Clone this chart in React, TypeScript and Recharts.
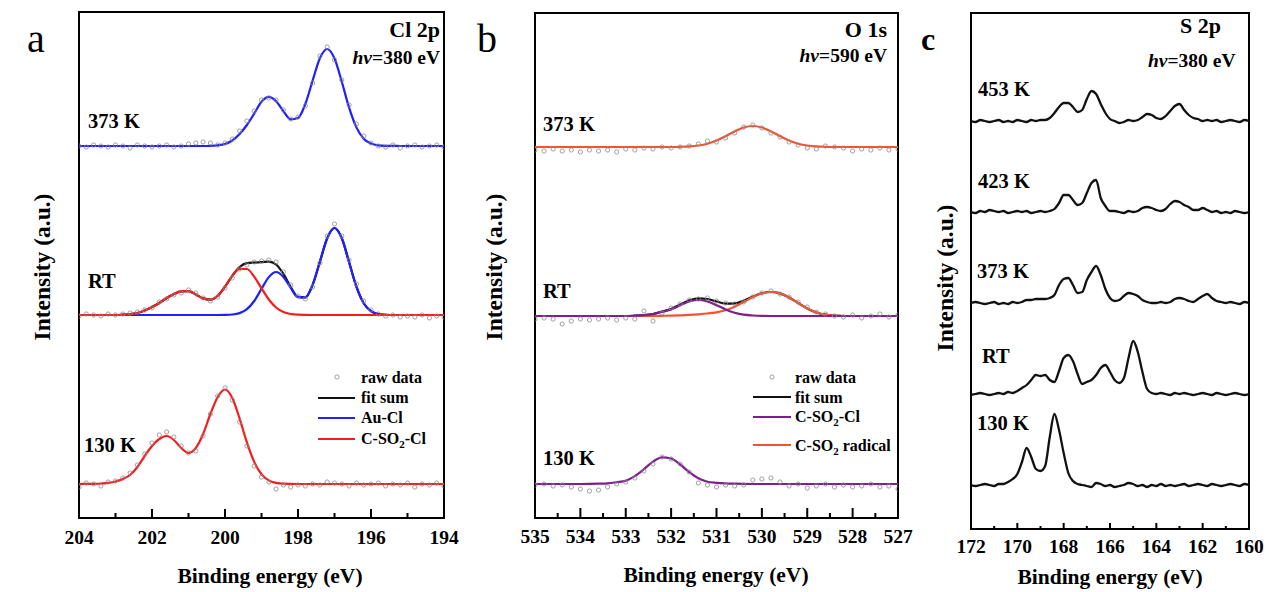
import { ComposedChart, Line, XAxis, YAxis, ReferenceArea } from 'recharts'

const SERIF = "'Liberation Serif', 'Times New Roman', Times, serif"
const BLUE = '#1f1fff'
const RED = '#f41c1c'
const PURPLE = '#7f1f8f'
const ORANGE = '#f5532f'
const BLACK = '#111'
const DOT = '#8a8a8a'

// ---- panel a: Cl 2p (intensities above each baseline) ----
const clEnergy = [
  194, 194.2, 194.4, 194.6, 194.8, 195, 195.2, 195.4, 195.6, 195.8,
  196, 196.2, 196.4, 196.6, 196.8, 197, 197.2, 197.4, 197.6, 197.8,
  198, 198.2, 198.4, 198.6, 198.8, 199, 199.2, 199.4, 199.6, 199.8,
  200, 200.2, 200.4, 200.6, 200.8, 201, 201.2, 201.4, 201.6, 201.8,
  202, 202.2, 202.4, 202.6, 202.8, 203, 203.2, 203.4, 203.6, 203.8, 204,
]
const cl373Fit = [
  0, 0, 0, 0, 0, 0, 0, 0.1, 0.1, 0.6,
  2.4, 7.3, 18.6, 38.3, 64.2, 87.5, 97, 87.8, 65.4, 42,
  28, 26.6, 34.8, 44.8, 49.1, 44.2, 32.4, 21, 12, 5.5,
  2, 0.7, 0.2, 0, 0, 0, 0, 0, 0, 0,
  0, 0, 0, 0, 0, 0, 0, 0, 0, 0, 0,
]
const cl373Raw = [
  -1, 1, 0, -1, 1, 0, -2, 1, -1, 0,
  3, 10, 22, 41, 66, 86, 99, 90, 63, 40,
  29, 27, 36, 46, 48, 46, 35, 25, 15, 7,
  3, 1, 3, 4, 3, 2, 0, -1, 1, 0,
  -1, 0, 1, -2, 0, 1, -1, 0, 1, -1, 0,
]
const clRtSum = [
  0, 0, 0, 0, 0, 0, 0, 0, 0.2, 1,
  3.8, 11.7, 28.3, 52.8, 76.7, 87, 76.8, 53.3, 30.2, 17.6,
  18.1, 28.1, 41.1, 50.5, 53.4, 52.8, 52.4, 51.8, 48, 39.4,
  28.4, 19.3, 15.4, 16.6, 20.6, 23.8, 23.6, 21, 17, 12,
  8, 4.5, 2, 0.8, 0.3, 0, 0, 0, 0, 0, 0,
]
const clRtAuCl = [
  0, 0, 0, 0, 0, 0, 0, 0, 0.2, 1,
  3.8, 11.7, 28.3, 52.8, 76.7, 87, 76.8, 53.3, 30.2, 17.5,
  17.8, 27.1, 38.1, 43, 37.9, 26.1, 14, 5.8, 1.9, 0.5,
  0.1, 0, 0, 0, 0, 0, 0, 0, 0, 0,
  0, 0, 0, 0, 0, 0, 0, 0, 0, 0, 0,
]
const clRtCSO2Cl = [
  0, 0, 0, 0, 0, 0, 0, 0, 0, 0,
  0, 0, 0, 0, 0, 0, 0, 0, 0, 0.1,
  0.3, 1, 3, 7.5, 15.5, 26.7, 38.4, 46, 46.1, 38.9,
  28.3, 19.3, 15.4, 16.6, 20.6, 23.8, 23.6, 21, 17, 12,
  8, 4.5, 2, 0.8, 0.3, 0, 0, 0, 0, 0, 0,
]
const clRtRaw = [
  -2, -1, -3, 0, -2, -1, -2, 0, -1, 1,
  5, 14, 31, 55, 79, 91, 79, 52, 28, 16,
  19, 30, 43, 53, 55, 54, 53, 50, 46, 37,
  27, 18, 14, 17, 22, 25, 22, 20, 16, 13,
  7, 5, 3, 2, 1, 0, 1, -1, 0, 1, -1,
]
const cl130Fit = [
  0, 0, 0, 0, 0, 0, 0, 0, 0, 0,
  0, 0, 0, 0, 0, 0, 0, 0, 0, 0,
  0, 0.1, 0.3, 1.1, 3.6, 9.8, 22.1, 41.6, 65.4, 86,
  94.5, 87, 70, 50, 36, 31, 36, 44, 48, 45,
  38, 28, 17, 9, 5, 2.5, 1.2, 0.5, 0.2, 0.1, 0,
]
const cl130Raw = [
  -2, 1, -1, 0, -3, 1, -1, 0, -2, 1,
  0, -1, 1, -2, 0, 1, 2, -1, 0, -2,
  -1, -3, -1, -5, 2, 7, 18, 38, 62, 84,
  96, 88, 70, 48, 33, 31, 38, 47, 52, 49,
  41, 30, 19, 11, 6, 3, 2, -2, 0, 1, -3,
]
const clBase373 = 372
const clBaseRt = 203
const clBase130 = 34

// ---- panel b: O 1s ----
const oEnergy = [
  527, 527.2, 527.4, 527.6, 527.8, 528, 528.2, 528.4, 528.6, 528.8,
  529, 529.2, 529.4, 529.6, 529.8, 530, 530.2, 530.4, 530.6, 530.8,
  531, 531.2, 531.4, 531.6, 531.8, 532, 532.2, 532.4, 532.6, 532.8,
  533, 533.2, 533.4, 533.6, 533.8, 534, 534.2, 534.4, 534.6, 534.8, 535,
]
const o373Fit = [
  0, 0, 0, 0, 0, 0, 0, 0, 0.2, 0.6,
  1.5, 3.3, 6.4, 10.8, 15.6, 19.5, 21, 19.5, 15.6, 10.8,
  6.4, 3.3, 1.5, 0.6, 0.2, 0, 0, 0, 0, 0,
  0, 0, 0, 0, 0, 0, 0, 0, 0, 0, 0,
]
const o373Raw = [
  -2, -3, -1, -3, -2, -4, -1, 0, 1, -2,
  -1, 2, 5, 10, 14, 19, 22, 20, 14, 9,
  5, 6, 3, 1, 0, -1, 0, -2, -1, -3,
  -2, -5, -3, -4, -3, -5, -3, -4, -2, -4, -3,
]
const oRtSum = [
  0, 0, 0, 0, 0, 0, 0, 0.4, 1.3, 3.5,
  7.5, 13, 18.5, 22.6, 24, 22.7, 19.4, 15.3, 12.6, 12.4,
  14.5, 17, 17.7, 15.6, 11.5, 7, 4.4, 1.9, 0.8, 0.3,
  0, 0, 0, 0, 0, 0, 0, 0, 0, 0, 0,
]
const oRtRadical = [
  0, 0, 0, 0, 0, 0, 0, 0.4, 1.3, 3.5,
  7.5, 13, 18.5, 22.6, 24, 22.6, 18.9, 14, 9.3, 5.8,
  3.7, 2.5, 1.7, 1.1, 0.7, 0.4, 0.2, 0, 0, 0,
  0, 0, 0, 0, 0, 0, 0, 0, 0, 0, 0,
]
const oRtCSO2Cl = [
  0, 0, 0, 0, 0, 0, 0, 0, 0, 0,
  0, 0, 0, 0, 0, 0.1, 0.5, 1.3, 3.3, 6.6,
  10.8, 14.5, 16, 14.5, 10.8, 6.6, 4.2, 1.9, 0.8, 0.3,
  0, 0, 0, 0, 0, 0, 0, 0, 0, 0, 0,
]
const oRtRaw = [
  1, -1, 2, 0, -2, 1, -1, 0, 2, 4,
  9, 14, 19, 22, 25, 23, 19, 14, 12, 13,
  15, 18, 17, 16, 12, 8, 3, -5, 5, -3,
  -2, -4, -2, -3, -4, -3, -5, -8, -3, -2, -3,
]
const o130Fit = [
  0, 0, 0, 0, 0, 0, 0, 0, 0, 0,
  0, 0, 0, 0, 0, 0, 0, 0.1, 0.3, 0.6,
  1.2, 2.2, 5.7, 11.8, 19.5, 25.5, 26.7, 22.3, 14.8, 7.9,
  3.3, 1.8, 0.6, 0.3, 0.1, 0, 0, 0, 0, 0, 0,
]
const o130Raw = [
  -5, -2, -3, 0, -2, -3, -1, -3, 0, -2,
  -4, 0, -2, 2, 6, 5, 4, -1, -2, -1,
  -3, -1, 1, 12, 20, 25, 27, 20, 13, 6,
  2, 0, -3, -6, -7, -5, -3, -1, -2, 0, -1,
]
const oBase373 = 371
const oBaseRt = 202
const oBase130 = 34

// ---- panel c: S 2p ----
const sEnergy = [
  160, 160.2, 160.4, 160.6, 160.8, 161, 161.2, 161.4, 161.6, 161.8,
  162, 162.2, 162.4, 162.6, 162.8, 163, 163.2, 163.4, 163.6, 163.8,
  164, 164.2, 164.4, 164.6, 164.8, 165, 165.2, 165.4, 165.6, 165.8,
  166, 166.2, 166.4, 166.6, 166.8, 167, 167.2, 167.4, 167.6, 167.8,
  168, 168.2, 168.4, 168.6, 168.8, 169, 169.2, 169.4, 169.6, 169.8,
  170, 170.2, 170.4, 170.6, 170.8, 171, 171.2, 171.4, 171.6, 171.8, 172,
]
const s453 = [
  0, 1, -1, 0, 1, 0, -1, 1, 0, 1,
  0, 2, 3, 6, 11, 17, 15, 10, 5, 2,
  3, 6, 7, 4, 1, 0, 1, -1, -2, 0,
  2, 8, 17, 27, 30, 22, 11, 9, 14, 18,
  18, 14, 8, 3, 1, 1, 0, 1, -1, 0,
  1, -1, 0, -1, 1, 0, -1, 0, 1, -1, 0,
]
const s423 = [
  0, -1, 0, 1, -1, 0, -1, 1, 0, 2,
  4, 2, 2, 5, 7, 10, 11, 8, 3, 1,
  2, 4, 5, 4, 1, 0, 1, -1, 0, 1,
  1, 6, 14, 32, 29, 19, 9, 7, 12, 17,
  17, 9, 3, 1, 0, 1, 0, -1, 1, 0,
  1, 0, -1, 1, 0, 1, 2, 0, 1, -1, 0,
]
const s373 = [
  0, 1, -1, 0, 1, 0, 1, 2, 5, 9,
  7, 4, 1, 2, 4, 5, 4, 1, 0, 1,
  0, 0, 1, 3, 7, 9, 10, 7, 3, 2,
  5, 14, 28, 37, 31, 23, 11, 10, 18, 25,
  24, 18, 8, 5, 4, 4, 4, 3, 3, 1,
  0, 1, -1, 0, -1, 1, 0, -1, 0, 1, 0,
]
const sRt = [
  0, -1, 0, 1, 0, -1, 0, 1, -1, 0,
  1, 0, -1, 0, 1, 0, 1, -1, 0, 1,
  0, 1, 5, 22, 42, 53, 36, 16, 11, 14,
  22, 29, 26, 19, 14, 12, 10, 20, 33, 39,
  36, 23, 12, 14, 19, 18, 19, 14, 9, 6,
  3, 1, 2, 0, 1, 0, -1, 0, 1, 0, -1,
]
const s130 = [
  0, 1, -1, 0, 1, 0, -1, 0, 1, -1,
  0, 1, 0, -1, 1, 0, -1, 0, -1, 1,
  -1, 0, -2, 0, -1, 1, 2, 0, -1, -2,
  0, -1, 1, 2, -2, -1, 0, 1, 4, 12,
  32, 55, 71, 48, 19, 14, 16, 28, 37, 23,
  11, 6, 3, 1, 1, -1, 0, 1, 0, -1, 0,
]
const sBase453 = 408
const sBase423 = 317
const sBase373 = 226
const sBaseRt = 135
const sBase130 = 44

const clTicks = [194, 195, 196, 197, 198, 199, 200, 201, 202, 203, 204]
const oTicks = [527, 527.5, 528, 528.5, 529, 529.5, 530, 530.5, 531, 531.5, 532, 532.5, 533, 533.5, 534, 534.5, 535]
const sTicks = [160, 161, 162, 163, 164, 165, 166, 167, 168, 169, 170, 171, 172]

const toPoints = (energy: number[], values: number[], offset: number) =>
  energy.map((e, i) => ({ e, v: values[i] + offset }))

function makeTick(majorStep: number, majorLen: number, minorLen: number, labelDy: number) {
  return (props: any) => {
    const { x, y, payload } = props
    const v = payload.value as number
    const major = Math.abs(v / majorStep - Math.round(v / majorStep)) < 1e-6
    return (
      <g>
        <line x1={x} x2={x} y1={y} y2={y - (major ? majorLen : minorLen)} stroke="#000" strokeWidth={2} />
        {major && (
          <text x={x} y={y + labelDy} textAnchor="middle" fontFamily={SERIF} fontWeight="bold" fontSize={19.5} fill="#000">
            {v}
          </text>
        )}
      </g>
    )
  }
}

type Trace = { values: number[]; offset: number; color?: string }

interface PanelProps {
  left: number
  width: number
  height: number
  plotLeft: number
  plotRight: number
  plotTop: number
  axisHeight: number
  energy: number[]
  xMin: number
  xMax: number
  ticks: number[]
  yMax: number
  tick: (p: any) => JSX.Element
  raw: Trace[]
  lines: Trace[]
  lineWidth: number
}

function SpectrumPanel(p: PanelProps) {
  return (
    <div style={{ position: 'absolute', left: p.left, top: 0 }}>
      <ComposedChart
        width={p.width}
        height={p.height}
        margin={{ top: p.plotTop, right: p.width - p.plotRight, bottom: 0, left: p.plotLeft }}
      >
        <XAxis
          type="number"
          dataKey="e"
          domain={[p.xMin, p.xMax]}
          reversed
          allowDataOverflow
          ticks={p.ticks}
          interval={0}
          tick={p.tick}
          tickLine={false}
          axisLine={false}
          tickSize={0}
          tickMargin={0}
          height={p.axisHeight}
        />
        <YAxis type="number" domain={[0, p.yMax]} allowDataOverflow hide />
        <ReferenceArea x1={p.xMin} x2={p.xMax} y1={0} y2={p.yMax} fill="none" stroke="#000" strokeWidth={2} fillOpacity={0} />
        {p.raw.map((r, i) => (
          <Line
            key={`raw-${i}`}
            data={toPoints(p.energy, r.values, r.offset)}
            dataKey="v"
            stroke="none"
            dot={{ r: 2.1, fill: 'none', stroke: DOT, strokeWidth: 0.8 }}
            activeDot={false}
            isAnimationActive={false}
          />
        ))}
        {p.lines.map((l, i) => (
          <Line
            key={`line-${i}`}
            data={toPoints(p.energy, l.values, l.offset)}
            dataKey="v"
            type="monotone"
            stroke={l.color}
            strokeWidth={p.lineWidth}
            strokeLinejoin="round"
            dot={false}
            activeDot={false}
            isAnimationActive={false}
          />
        ))}
      </ComposedChart>
    </div>
  )
}

const lbl = { fontFamily: SERIF, fontWeight: 'bold' as const, fill: '#000' }

function Sub({ children }: { children: string }) {
  return (
    <tspan fontSize={11} dy={4}>
      {children}
    </tspan>
  )
}

export default function App() {
  return (
    <div style={{ position: 'absolute', left: 0, top: 0, width: 1269, height: 592, background: '#fff', overflow: 'hidden' }}>
      <SpectrumPanel
        left={0}
        width={470}
        height={560}
        plotLeft={79}
        plotRight={444}
        plotTop={12}
        axisHeight={42}
        energy={clEnergy}
        xMin={194}
        xMax={204}
        ticks={clTicks}
        yMax={506}
        tick={makeTick(2, 9, 5, 26)}
        lineWidth={2.2}
        raw={[
          { values: cl373Raw, offset: clBase373 },
          { values: clRtRaw, offset: clBaseRt },
          { values: cl130Raw, offset: clBase130 },
        ]}
        lines={[
          { values: cl373Fit, offset: clBase373, color: BLUE },
          { values: clRtSum, offset: clBaseRt, color: BLACK },
          { values: clRtAuCl, offset: clBaseRt, color: BLUE },
          { values: clRtCSO2Cl, offset: clBaseRt, color: RED },
          { values: cl130Fit, offset: clBase130, color: RED },
        ]}
      />
      <SpectrumPanel
        left={460}
        width={470}
        height={560}
        plotLeft={75}
        plotRight={438}
        plotTop={13}
        axisHeight={42}
        energy={oEnergy}
        xMin={527}
        xMax={535}
        ticks={oTicks}
        yMax={505}
        tick={makeTick(1, 10, 5, 25)}
        lineWidth={2.2}
        raw={[
          { values: o373Raw, offset: oBase373 },
          { values: oRtRaw, offset: oBaseRt },
          { values: o130Raw, offset: oBase130 },
        ]}
        lines={[
          { values: o373Fit, offset: oBase373, color: ORANGE },
          { values: oRtSum, offset: oBaseRt, color: BLACK },
          { values: oRtRadical, offset: oBaseRt, color: ORANGE },
          { values: oRtCSO2Cl, offset: oBaseRt, color: PURPLE },
          { values: o130Fit, offset: oBase130, color: PURPLE },
        ]}
      />
      <SpectrumPanel
        left={910}
        width={359}
        height={570}
        plotLeft={61}
        plotRight={339}
        plotTop={13}
        axisHeight={41}
        energy={sEnergy}
        xMin={160}
        xMax={172}
        ticks={sTicks}
        yMax={516}
        tick={makeTick(2, 6, 3, 24)}
        lineWidth={2.3}
        raw={[]}
        lines={[
          { values: s453, offset: sBase453, color: BLACK },
          { values: s423, offset: sBase423, color: BLACK },
          { values: s373, offset: sBase373, color: BLACK },
          { values: sRt, offset: sBaseRt, color: BLACK },
          { values: s130, offset: sBase130, color: BLACK },
        ]}
      />

      <svg width={1269} height={592} style={{ position: 'absolute', left: 0, top: 0, pointerEvents: 'none' }}>
        {/* panel letters */}
        <text x={27} y={52} fontFamily={SERIF} fontSize={40} fill="#000">a</text>
        <text x={477} y={52} fontFamily={SERIF} fontSize={40} fill="#000">b</text>
        <text x={921} y={50} fontFamily={SERIF} fontSize={32} fontWeight="bold" fill="#000">c</text>

        {/* axis titles */}
        <text transform="translate(50,267) rotate(-90)" textAnchor="middle" fontSize={23.5} {...lbl}>Intensity (a.u.)</text>
        <text transform="translate(502,267) rotate(-90)" textAnchor="middle" fontSize={23.5} {...lbl}>Intensity (a.u.)</text>
        <text transform="translate(953,278) rotate(-90)" textAnchor="middle" fontSize={23.5} {...lbl}>Intensity (a.u.)</text>
        <text x={270} y={583} textAnchor="middle" fontSize={21.5} {...lbl}>Binding energy (eV)</text>
        <text x={716} y={582} textAnchor="middle" fontSize={21.5} {...lbl}>Binding energy (eV)</text>
        <text x={1110} y={584} textAnchor="middle" fontSize={21.5} {...lbl}>Binding energy (eV)</text>

        {/* panel a annotations */}
        <text x={440} y={37} textAnchor="end" fontSize={22} {...lbl}>Cl 2p</text>
        <text x={440} y={64} textAnchor="end" fontSize={19.5} {...lbl}>
          <tspan fontStyle="italic">hv</tspan>=380 eV
        </text>
        <text x={88} y={128} fontSize={20.5} {...lbl}>373 K</text>
        <text x={88} y={288} fontSize={20.5} {...lbl}>RT</text>
        <text x={84} y={452} fontSize={20.5} {...lbl}>130 K</text>

        {/* panel a legend */}
        <circle cx={337} cy={377} r={2.1} fill="none" stroke={DOT} strokeWidth={0.8} />
        <text x={361} y={383} fontSize={16} {...lbl}>raw data</text>
        <line x1={318} x2={355} y1={398} y2={398} stroke={BLACK} strokeWidth={2.2} />
        <text x={361} y={403} fontSize={16} {...lbl}>fit sum</text>
        <line x1={318} x2={355} y1={418} y2={418} stroke={BLUE} strokeWidth={2.2} />
        <text x={361} y={423} fontSize={16} {...lbl}>Au-Cl</text>
        <line x1={318} x2={355} y1={439} y2={439} stroke={RED} strokeWidth={2.2} />
        <text x={361} y={444} fontSize={16} {...lbl}>
          C-SO<Sub>2</Sub>
          <tspan dy={-4}>-Cl</tspan>
        </text>

        {/* panel b annotations */}
        <text x={887} y={37} textAnchor="end" fontSize={22} {...lbl}>O 1s</text>
        <text x={887} y={62} textAnchor="end" fontSize={19.5} {...lbl}>
          <tspan fontStyle="italic">hv</tspan>=590 eV
        </text>
        <text x={543} y={131} fontSize={20.5} {...lbl}>373 K</text>
        <text x={543} y={298} fontSize={20.5} {...lbl}>RT</text>
        <text x={543} y={465} fontSize={20.5} {...lbl}>130 K</text>

        {/* panel b legend */}
        <circle cx={772} cy={377} r={2.1} fill="none" stroke={DOT} strokeWidth={0.8} />
        <text x={795} y={383} fontSize={16} {...lbl}>raw data</text>
        <line x1={753} x2={791} y1={397} y2={397} stroke={BLACK} strokeWidth={2.2} />
        <text x={795} y={403} fontSize={16} {...lbl}>fit sum</text>
        <line x1={753} x2={791} y1={417} y2={417} stroke={PURPLE} strokeWidth={2.2} />
        <text x={795} y={422} fontSize={16} {...lbl}>
          C-SO<Sub>2</Sub>
          <tspan dy={-4}>-Cl</tspan>
        </text>
        <line x1={753} x2={791} y1={445} y2={445} stroke={ORANGE} strokeWidth={2.2} />
        <text x={795} y={451} fontSize={16} {...lbl}>
          C-SO<Sub>2</Sub>
          <tspan dy={-4}> radical</tspan>
        </text>

        {/* panel c annotations */}
        <text x={1180} y={33} fontSize={22} {...lbl}>S 2p</text>
        <text x={1148} y={67} fontSize={19.5} {...lbl}>
          <tspan fontStyle="italic">hv</tspan>=380 eV
        </text>
        <text x={978} y={96} fontSize={20.5} {...lbl}>453 K</text>
        <text x={978} y={188} fontSize={20.5} {...lbl}>423 K</text>
        <text x={977} y={278} fontSize={20.5} {...lbl}>373 K</text>
        <text x={982} y={363} fontSize={20.5} {...lbl}>RT</text>
        <text x={977} y={430} fontSize={20.5} {...lbl}>130 K</text>
      </svg>
    </div>
  )
}
